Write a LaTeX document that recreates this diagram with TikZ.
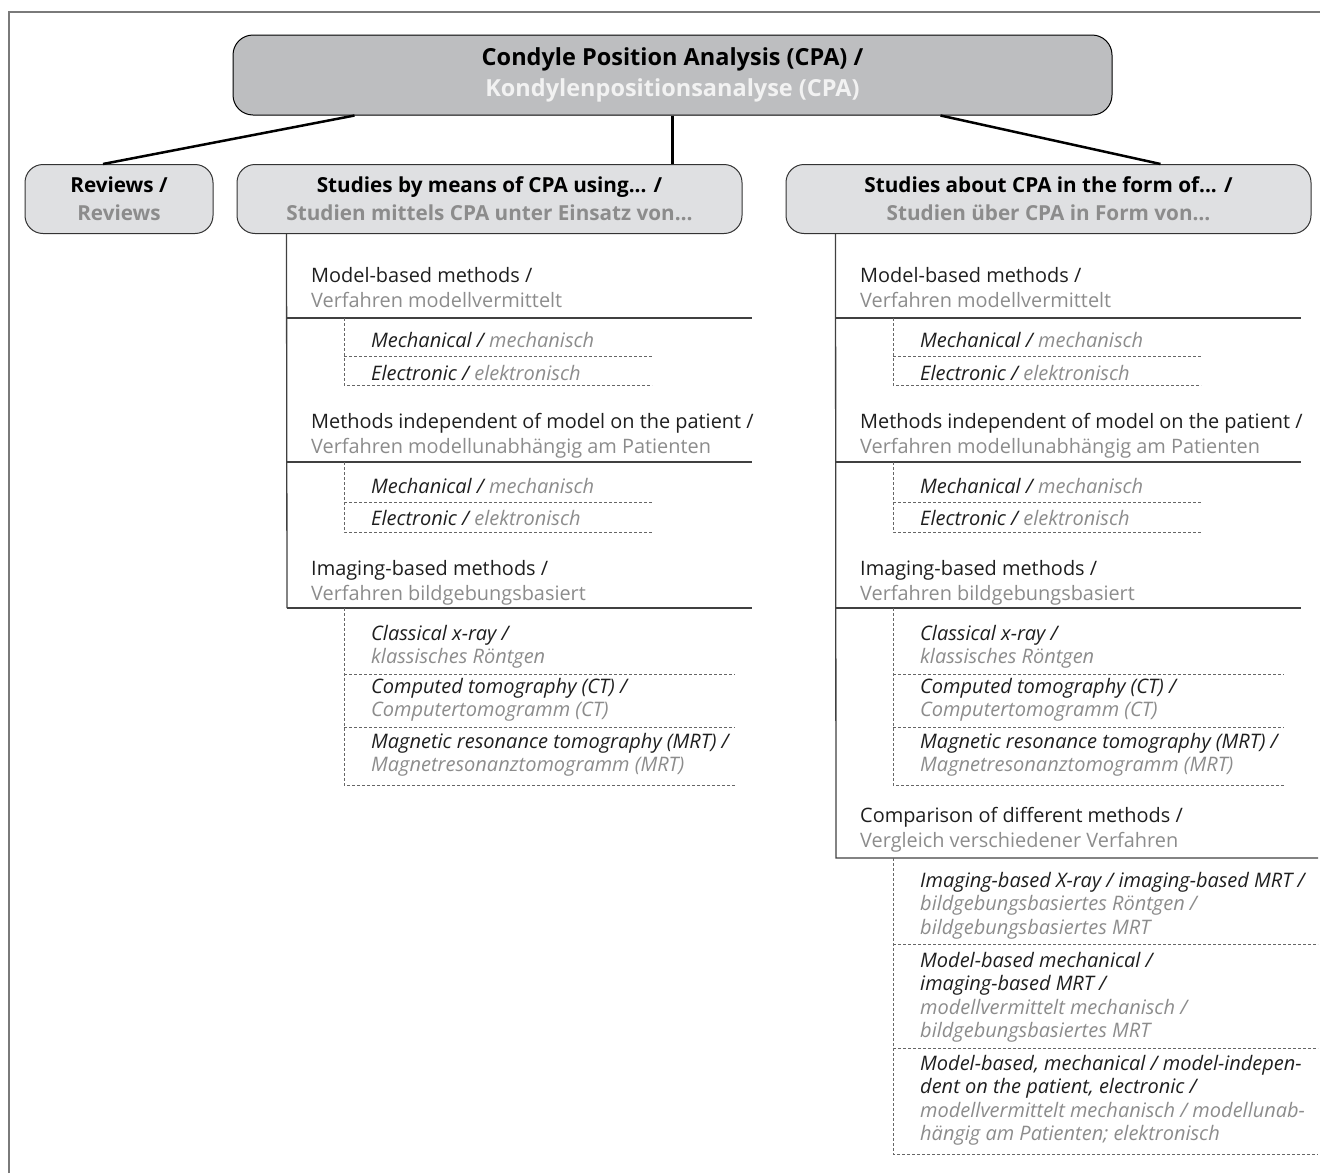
\documentclass[tikz,border=0pt]{standalone}
\usepackage{fontspec}
\setmainfont{Open Sans}
\usetikzlibrary{positioning}

\definecolor{boxdark}{HTML}{BDBEC0}
\definecolor{boxlight}{HTML}{DFE0E2}
\definecolor{txtblack}{HTML}{1E1E1E}
\definecolor{txtgray}{HTML}{8C8C8C}
\definecolor{txtwhite}{HTML}{F2F2F2}
\definecolor{framegray}{HTML}{7A7A7A}

% multi-line nodes sit on the baseline of their last line
\tikzset{
  topbox/.style = {draw = black, line width = 1pt, fill = boxdark,
    rounded corners = 20pt, minimum width = 879pt, minimum height = 80pt,
    align = center, font = \fontsize{23.5}{31}\selectfont\bfseries},
  subbox/.style = {draw = black!80, line width = 1pt, fill = boxlight,
    rounded corners = 18pt, minimum height = 69pt, align = center,
    font = \fontsize{20.7}{28}\selectfont\bfseries},
  heading/.style = {anchor = base west, inner sep = 0pt, align = left,
    text = txtblack, font = \fontsize{19.9}{25.5}\selectfont},
  item/.style = {anchor = base west, inner sep = 0pt, align = left,
    text = txtblack, font = \fontsize{20}{23.5}\selectfont\itshape},
  link/.style = {line width = 2.5pt},
  rule/.style = {draw = black!75, line width = 1.3pt},
  dashrule/.style = {draw = black!60, line width = 0.9pt, dash pattern = on 3pt off 2pt}
}

\begin{document}
\begin{tikzpicture}[x = 1pt, y = -1pt]
  \useasboundingbox (0, 0) rectangle (1320, 1173);
  % frame
  \draw[framegray, line width = 2pt] (9, 1173) -- (9, 12) -- (1320, 12);

  % boxes
  \node[topbox] (cpa) at (672.5, 75)
  {Condyle Position Analysis (CPA) /\\\textcolor{txtwhite}{Kondylenpositionsanalyse (CPA)}};
  \node[subbox, minimum width = 188pt] (rev) at (119, 199)
  {Reviews /\\\textcolor{txtgray}{Reviews}};
  \node[subbox, minimum width = 505pt] (using) at (489.5, 199)
  {Studies by means of CPA using... /\\\textcolor{txtgray}{Studien mittels CPA unter Einsatz von\dots}};
  \node[subbox, minimum width = 525pt] (about) at (1048.5, 199)
  {Studies about CPA in the form of... /\\\textcolor{txtgray}{Studien über CPA in Form von\dots}};

  \draw[link] ([xshift = 122pt]cpa.south west) -- ([xshift = -16pt]rev.north);
  \draw[link] (cpa.south) -- (cpa.south |- using.north);
  \draw[link] ([xshift = -172pt]cpa.south east) -- ([xshift = 112pt]about.north);

  % both columns share the first three groups
  \foreach \ox in {0, 549}{
    \node[heading] (model\ox) at (311+\ox, 307.5)
    {Model-based methods /\\\textcolor{txtgray}{Verfahren modellvermittelt}};
    \draw[rule] (287+\ox, 318) -- (752+\ox, 318);
    \node[item] (mmech\ox) at (371+\ox, 347) {Mechanical / \textcolor{txtgray}{mechanisch}};
    \node[item] (melec\ox) at (371+\ox, 380) {Electronic / \textcolor{txtgray}{elektronisch}};
    \draw[dashrule] (344+\ox, 318) -- (344+\ox, 385) -- (652+\ox, 385);
    \draw[dashrule] (344+\ox, 356) -- (652+\ox, 356);

    \node[heading] (indep\ox) at (311+\ox, 453.5)
    {Methods independent of model on the patient /\\\textcolor{txtgray}{Verfahren modellunabhängig am Patienten}};
    \draw[rule] (287+\ox, 462) -- (752+\ox, 462);
    \node[item] (imech\ox) at (371+\ox, 493) {Mechanical / \textcolor{txtgray}{mechanisch}};
    \node[item] (ielec\ox) at (371+\ox, 525) {Electronic / \textcolor{txtgray}{elektronisch}};
    \draw[dashrule] (344+\ox, 462) -- (344+\ox, 532) -- (652+\ox, 532);
    \draw[dashrule] (344+\ox, 502) -- (652+\ox, 502);

    \node[heading] (imag\ox) at (311+\ox, 600.5)
    {Imaging-based methods /\\\textcolor{txtgray}{Verfahren bildgebungsbasiert}};
    \draw[rule] (287+\ox, 608) -- (752+\ox, 608);
    \node[item] (xray\ox) at (371+\ox, 663.5)
    {Classical x-ray /\\\textcolor{txtgray}{klassisches Röntgen}};
    \node[item] (ct\ox) at (371+\ox, 716.5)
    {Computed tomography (CT) /\\\textcolor{txtgray}{Computertomogramm (CT)}};
    \node[item] (mrt\ox) at (371+\ox, 771.5)
    {Magnetic resonance tomography (MRT) /\\\textcolor{txtgray}{Magnetresonanztomogramm (MRT)}};
    \draw[dashrule] (344+\ox, 608) -- (344+\ox, 785) -- (735+\ox, 785);
    \draw[dashrule] (344+\ox, 674) -- (735+\ox, 674);
    \draw[dashrule] (344+\ox, 727) -- (735+\ox, 727);
  }

  % stems
  \draw[rule] ([xshift = 50pt]using.south west) -- (287, 608);
  \draw[rule] ([xshift = 50pt]about.south west) -- (836, 858) -- (1318, 858);

  % comparison (right only)
  \node[heading] (comp) at (860, 847.5)
  {Comparison of different methods /\\\textcolor{txtgray}{Vergleich verschiedener Verfahren}};
  \node[item] (cmp1) at (920, 934)
  {Imaging-based X-ray / imaging-based MRT /\\\textcolor{txtgray}{bildgebungsbasiertes Röntgen /}\\\textcolor{txtgray}{bildgebungsbasiertes MRT}};
  \node[item] (cmp2) at (920, 1037.5)
  {Model-based mechanical /\\imaging-based MRT /\\\textcolor{txtgray}{modellvermittelt mechanisch /}\\\textcolor{txtgray}{bildgebungsbasiertes MRT}};
  \node[item] (cmp3) at (920, 1140.5)
  {Model-based, mechanical / model-indepen-\\dent on the patient, electronic /\\\textcolor{txtgray}{modellvermittelt mechanisch / modellunab-}\\\textcolor{txtgray}{hängig am Patienten; elektronisch}};
  \draw[dashrule] (893, 858) -- (893, 1154) -- (1318, 1154);
  \draw[dashrule] (893, 944) -- (1318, 944);
  \draw[dashrule] (893, 1048) -- (1318, 1048);
\end{tikzpicture}
\end{document}
